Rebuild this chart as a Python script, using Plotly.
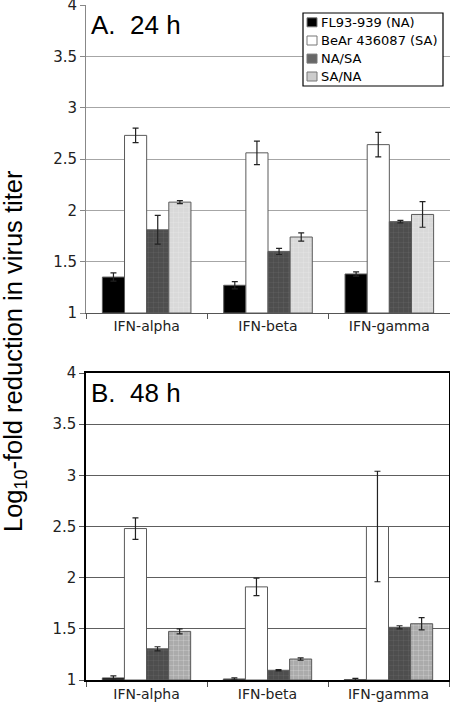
import plotly.graph_objects as go

W, H = 450, 710

categories = ["IFN-alpha", "IFN-beta", "IFN-gamma"]
series_names = ["FL93-939 (NA)", "BeAr 436087 (SA)", "NA/SA", "SA/NA"]

# Panel A: 24 h
a_fl93 = [1.35, 1.27, 1.38]
a_fl93_err = [0.04, 0.035, 0.02]
a_bear = [2.73, 2.56, 2.64]
a_bear_err = [0.07, 0.115, 0.12]
a_nasa = [1.81, 1.60, 1.89]
a_nasa_err = [0.14, 0.03, 0.012]
a_sana = [2.08, 1.74, 1.96]
a_sana_err = [0.015, 0.04, 0.125]

# Panel B: 48 h
b_fl93 = [1.02, 1.01, 1.005]
b_fl93_err = [0.02, 0.01, 0.01]
b_bear = [2.48, 1.91, 2.50]
b_bear_err = [0.105, 0.085, 0.54]
b_nasa = [1.305, 1.095, 1.515]
b_nasa_err = [0.02, 0.006, 0.015]
b_sana = [1.475, 1.205, 1.55]
b_sana_err = [0.025, 0.012, 0.06]

colors_a = ["#000000", "#ffffff", "#4e4e4e", "#d9d9d9"]
colors_b = ["#000000", "#ffffff", "#4e4e4e", "#ababab"]
legend_colors = ["#000000", "#ffffff", "#676767", "#cccccc"]

def px(x):
    return x / W

def py(y):
    return 1 - y / H

fig = go.Figure()

panels = [
    ("x", "y", [a_fl93, a_bear, a_nasa, a_sana],
     [a_fl93_err, a_bear_err, a_nasa_err, a_sana_err], colors_a),
    ("x2", "y2", [b_fl93, b_bear, b_nasa, b_sana],
     [b_fl93_err, b_bear_err, b_nasa_err, b_sana_err], colors_b),
]

for xa, ya, vals, errs, cols in panels:
    for i, name in enumerate(series_names):
        pattern = None
        if i >= 2:
            pattern = dict(shape="+", size=5, solidity=0.08,
                           fgcolor="#7a7a7a" if i == 2 else "#eeeeee",
                           bgcolor=cols[i], fillmode="replace")
        fig.add_trace(go.Bar(
            x=categories, y=[v - 1 for v in vals[i]], base=1,
            name=name, xaxis=xa, yaxis=ya, showlegend=False,
            marker=dict(color=cols[i], line=dict(color="#5a5a5a", width=1),
                        pattern=pattern),
            error_y=dict(type="data", array=errs[i], color="#222222",
                         thickness=1.2, width=3),
        ))

tickfont = dict(family="DejaVu Sans", size=15, color="#222222")
xfont = dict(family="DejaVu Sans", size=14, color="#222222")

common_y = dict(range=[1, 4], dtick=0.5, tickmode="linear", ticks="outside",
                ticklen=5, tickfont=tickfont, zeroline=False, showline=True,
                automargin=False, ticklabeloverflow="allow")
common_x = dict(type="category", tickson="boundaries", ticks="outside",
                ticklen=5, tickfont=xfont, showgrid=False, showline=True,
                automargin=False, ticklabeloverflow="allow")

fig.update_layout(
    width=W, height=H,
    margin=dict(l=0, r=0, t=0, b=0, autoexpand=False),
    paper_bgcolor="white", plot_bgcolor="white",
    barmode="group", bargap=0.27, bargroupgap=0,
    showlegend=False,
    xaxis=dict(domain=[px(86), 1.0], anchor="y", linecolor="#555555",
               tickcolor="#555555", **common_x),
    yaxis=dict(domain=[py(313), py(5)], anchor="x", linecolor="#888888",
               tickcolor="#888888", gridcolor="#a6a6a6", gridwidth=1,
               **common_y),
    xaxis2=dict(domain=[px(86), px(449)], anchor="y2", linecolor="#000000",
                linewidth=1.5, mirror=True, tickcolor="#555555", **common_x),
    yaxis2=dict(domain=[py(680), py(373)], anchor="x2", linecolor="#000000",
                linewidth=1.5, mirror=True, tickcolor="#555555",
                gridcolor="#5e5e5e", gridwidth=1, **common_y),
)

shapes = []
annotations = []

# Panel labels
annotations.append(dict(text="A.\u00a0\u00a024 h", x=px(89), y=py(25),
                        xref="paper", yref="paper", xanchor="left",
                        yanchor="middle", showarrow=False,
                        font=dict(family="Liberation Sans", size=26,
                                  color="#000000")))
annotations.append(dict(text="B.\u00a0\u00a048 h", x=px(89), y=py(393),
                        xref="paper", yref="paper", xanchor="left",
                        yanchor="middle", showarrow=False,
                        font=dict(family="Liberation Sans", size=26,
                                  color="#000000")))

# Y axis title
annotations.append(dict(text="Log<sub>10</sub>-fold reduction in virus titer",
                        x=px(15), y=py(351), xref="paper", yref="paper",
                        xanchor="center", yanchor="middle", textangle=-90,
                        showarrow=False,
                        font=dict(family="Liberation Sans", size=25.5,
                                  color="#000000")))

# Legend box (panel A)
shapes.append(dict(type="rect", xref="paper", yref="paper",
                   x0=px(303), x1=px(443), y0=py(86), y1=py(13),
                   line=dict(color="#000000", width=1.2),
                   fillcolor="white", layer="above"))
row_y = [22.3, 40.5, 58.6, 76.5]
for i, name in enumerate(series_names):
    cy = row_y[i]
    shapes.append(dict(type="rect", xref="paper", yref="paper",
                       x0=px(307), x1=px(317), y0=py(cy + 4.5), y1=py(cy - 4.5),
                       line=dict(color="#777777", width=1),
                       fillcolor=legend_colors[i], layer="above"))
    annotations.append(dict(text=name, x=px(319), y=py(cy), xref="paper",
                            yref="paper", xanchor="left", yanchor="middle",
                            showarrow=False,
                            font=dict(family="DejaVu Sans", size=13,
                                      color="#000000")))

fig.update_layout(shapes=shapes, annotations=annotations)

fig.write_html("out.html", config={"displayModeBar": False},
               post_script="document.body.style.margin='0px';")
